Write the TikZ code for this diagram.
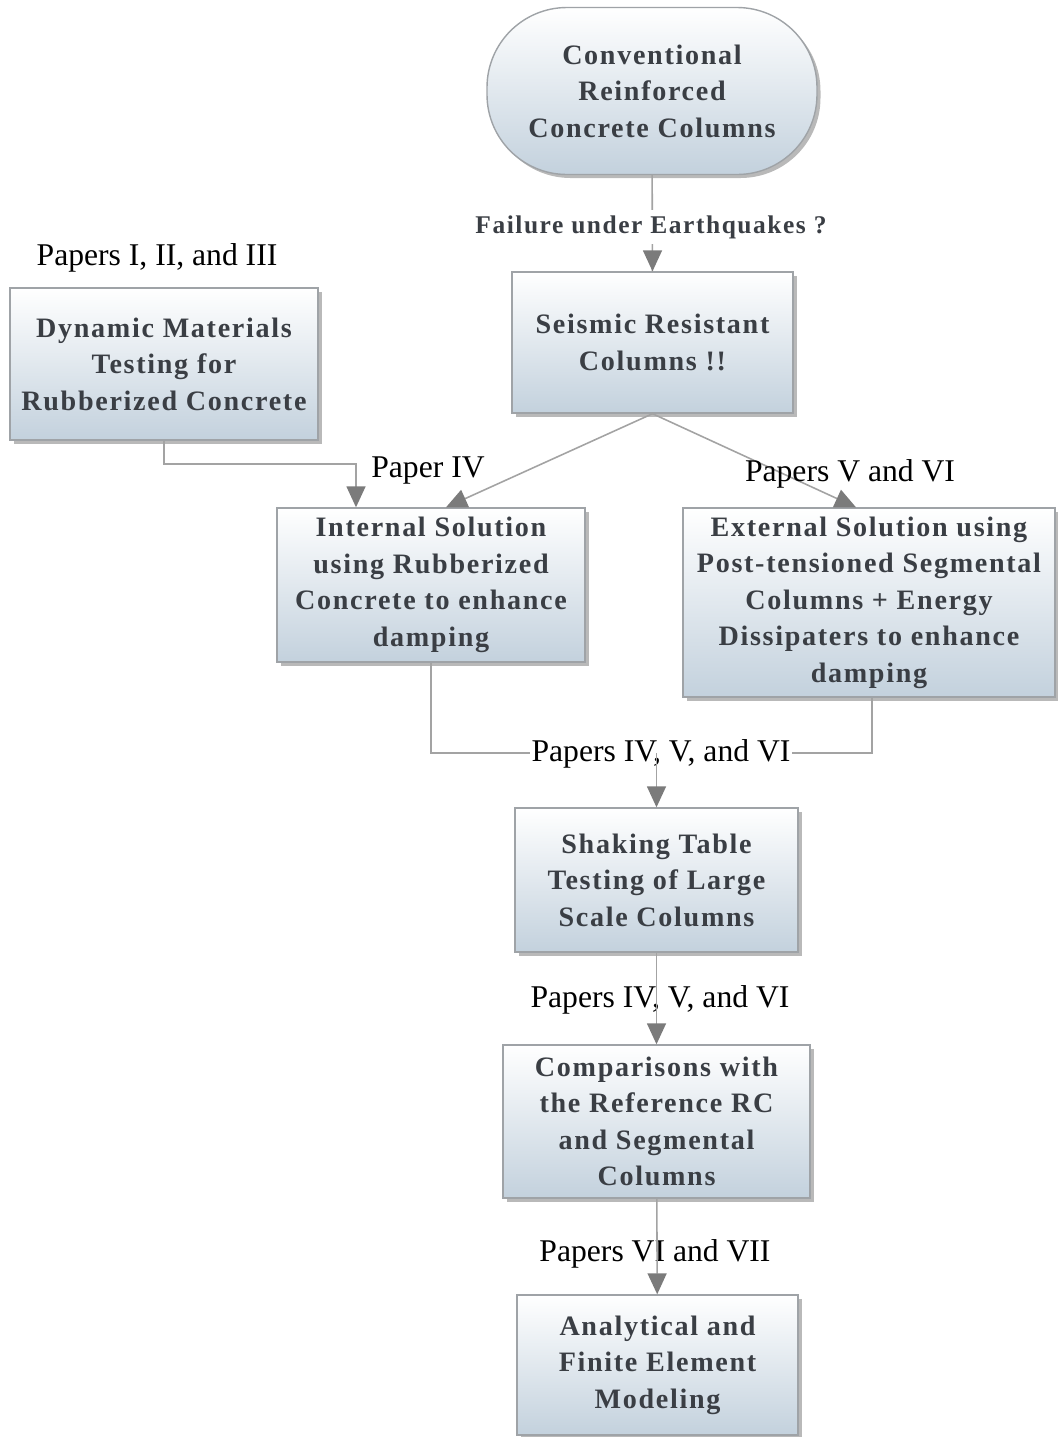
\documentclass[tikz,border=0pt]{standalone}
\usepackage{fontspec}
\setmainfont{Liberation Serif}
\newfontfamily\boxfam[LetterSpace=6]{Liberation Serif}
\usetikzlibrary{arrows.meta, positioning, shadows}

\definecolor{boxline}{HTML}{9FA3A7}
\definecolor{boxblue}{HTML}{C3D1DD}
\definecolor{boxtext}{HTML}{3A3E44}
\definecolor{linegray}{HTML}{A3A3A3}
\definecolor{tipgray}{HTML}{7B7B7B}

\tikzset{
  box/.style={draw=boxline, line width=0.8pt, top color=white, bottom color=boxblue,
    drop shadow={shadow xshift=0.07cm, shadow yshift=-0.07cm, opacity=0.55, fill=gray},
    text=boxtext, align=center, inner sep=2pt,
    font={\boxfam\bfseries\fontsize{16}{20.8}\selectfont}},
  term/.style={box, rounded corners=1.6cm},
  paper/.style={font={\fontsize{18}{21}\selectfont}, inner sep=1pt},
  link/.style={draw=linegray, line width=0.9pt}
}

\begin{document}
\begin{tikzpicture}[>={Triangle[length=0.42cm, width=0.38cm, color=tipgray]}]
      \useasboundingbox (0,0) rectangle (21.16,-28.74);

      \node[term, minimum width=6.6cm, minimum height=3.34cm] (conv) at (13.04,-1.82)
        {Conventional\\Reinforced\\Concrete Columns};
      \node[box, minimum width=5.62cm, minimum height=2.82cm] (seis) at (13.05,-6.85)
        {Seismic Resistant\\Columns !!};
      \node[box, minimum width=6.16cm, minimum height=3.04cm] (dyn) at (3.28,-7.28)
        {Dynamic Materials\\Testing for\\Rubberized Concrete};
      \node[box, minimum width=6.16cm, minimum height=3.08cm] (int) at (8.62,-11.70)
        {Internal Solution\\using Rubberized\\Concrete to enhance\\damping};
      \node[box, minimum width=7.44cm, minimum height=3.78cm] (ext) at (17.38,-12.05)
        {External Solution using\\Post-tensioned Segmental\\Columns + Energy\\Dissipaters to enhance\\damping};
      \node[box, minimum width=5.66cm, minimum height=2.88cm] (shake) at (13.13,-17.60)
        {Shaking Table\\Testing of Large\\Scale Columns};
      \node[box, minimum width=6.14cm, minimum height=3.06cm] (comp) at (13.13,-22.43)
        {Comparisons with\\the Reference RC\\and Segmental\\Columns};
      \node[box, minimum width=5.62cm, minimum height=2.80cm] (anal) at (13.15,-27.30)
        {Analytical and\\Finite Element\\Modeling};

      \coordinate (merge) at (13.13,-15.06);

      % connectors
      \draw[link] (conv) -- (seis);
      \draw[link, ->] (seis.south) -- ([xshift=0.3cm]int.north);
      \draw[link, ->] (seis.south) -- ([xshift=-0.26cm]ext.north);
      \draw[link, ->] (dyn.south) -- ++(0,-0.46) -| ([xshift=-1.5cm]int.north);
      \draw[link] (int.south) |- (merge);
      \draw[link] ([xshift=0.06cm]ext.south) |- (merge);

      % labels
      \node[font={\boxfam\bfseries\fontsize{14.5}{17}\selectfont}, text=boxtext, fill=white, inner sep=3pt]
        (fail) at (13.02,-4.54) {Failure under Earthquakes ?};
      \node[paper] (p123) at (3.14,-5.16) {Papers I, II, and III};
      \node[paper] (p4) at (8.56,-9.42) {Paper IV};
      \node[paper, fill=white] (p456a) at (13.22,-15.08) {Papers IV, V, and VI};
      \node[paper] (p456b) at (13.20,-20.00) {Papers IV, V, and VI};
      \node[paper] (p67) at (13.10,-25.08) {Papers VI and VII};

      \draw[link, ->] (fail.south -| seis.north) -- (seis.north);
      \draw[link, ->] (merge) -- (shake);
      \draw[link, ->] (shake) -- (comp);
      \draw[link, ->] (comp) -- (anal);
      \node[paper] (p56) at (17.0,-9.48) {Papers V and VI};
    \end{tikzpicture}
\end{document}
